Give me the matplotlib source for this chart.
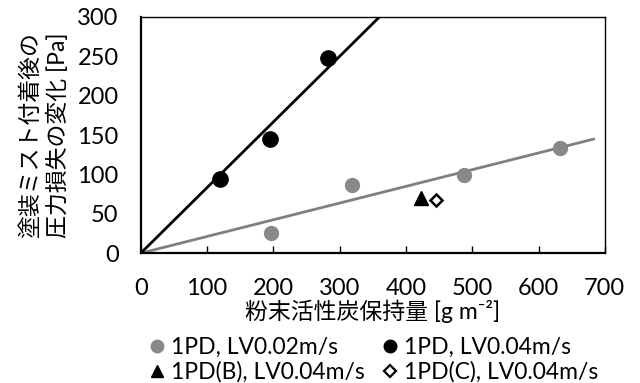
import numpy as np
import matplotlib
matplotlib.use('Agg')
import matplotlib.pyplot as plt
from matplotlib.lines import Line2D

plt.rcParams['font.family'] = ['Lato', 'Noto Sans CJK JP', 'DejaVu Sans']

# data
gray_x = [197, 318, 487, 632]
gray_y = [26, 86, 99, 133]
black_x = [120, 195, 283]
black_y = [94, 145, 248]
tri_x = [422]
tri_y = [70]
dia_x = [446]
dia_y = [68]

gray_slope = 0.212
gray_end = 683
black_slope = 0.833

fig = plt.figure(figsize=(6.4, 3.83), dpi=100)
ax = fig.add_axes([0.22, 0.339, 0.725, 0.617])

# fit lines through origin
gx = np.array([0, gray_end])
ax.plot(gx, gray_slope * gx, color='#808080', lw=2, zorder=1)
bx = np.array([0, 400])
ax.plot(bx, black_slope * bx, color='black', lw=2, zorder=1)

ax.plot(gray_x, gray_y, 'o', color='#898989', ms=10, zorder=3)
ax.plot(black_x, black_y, 'o', color='black', ms=11, zorder=3)
ax.plot(tri_x, tri_y, '^', color='black', ms=10, zorder=3)
ax.plot(dia_x, dia_y, 'D', mfc='white', mec='black', mew=1.8, ms=6.5, zorder=3)

ax.set_xlim(0, 700)
ax.set_ylim(0, 300)
ax.set_xticks(range(0, 701, 100))
ax.set_yticks(range(0, 301, 50))
ax.tick_params(axis='x', direction='in', length=5, width=1, labelsize=17, pad=18)
ax.tick_params(axis='y', length=0, labelsize=17, pad=16)
for s in ['left', 'bottom']:
    ax.spines[s].set_linewidth(1.6)
for s in ['top', 'right']:
    ax.spines[s].set_linewidth(1.0)

ax.set_xlabel('粉末活性炭保持量 [g m\u207b\u00b2]', fontsize=16.5, labelpad=0)
ax.set_ylabel('塗装ミスト付着後の\n圧力損失の変化 [Pa]', fontsize=16.5, labelpad=6, linespacing=1.3)

handles = [
    Line2D([], [], ls='', marker='o', color='#898989', ms=9),
    Line2D([], [], ls='', marker='^', color='black', ms=9),
    Line2D([], [], ls='', marker='o', color='black', ms=9),
    Line2D([], [], ls='', marker='D', mfc='white', mec='black', mew=1.6, ms=6),
]
labels = ['1PD, LV0.02m/s', '1PD(B), LV0.04m/s', '1PD, LV0.04m/s', '1PD(C), LV0.04m/s']
fig.legend(handles, labels, ncol=2, loc='upper left', bbox_to_anchor=(0.235, 0.12),
           frameon=False, fontsize=16.5, handlelength=0.6, handletextpad=0.3,
           columnspacing=0.8, labelspacing=0.15, borderaxespad=0, borderpad=0)

fig.savefig('out.png', dpi=100)
